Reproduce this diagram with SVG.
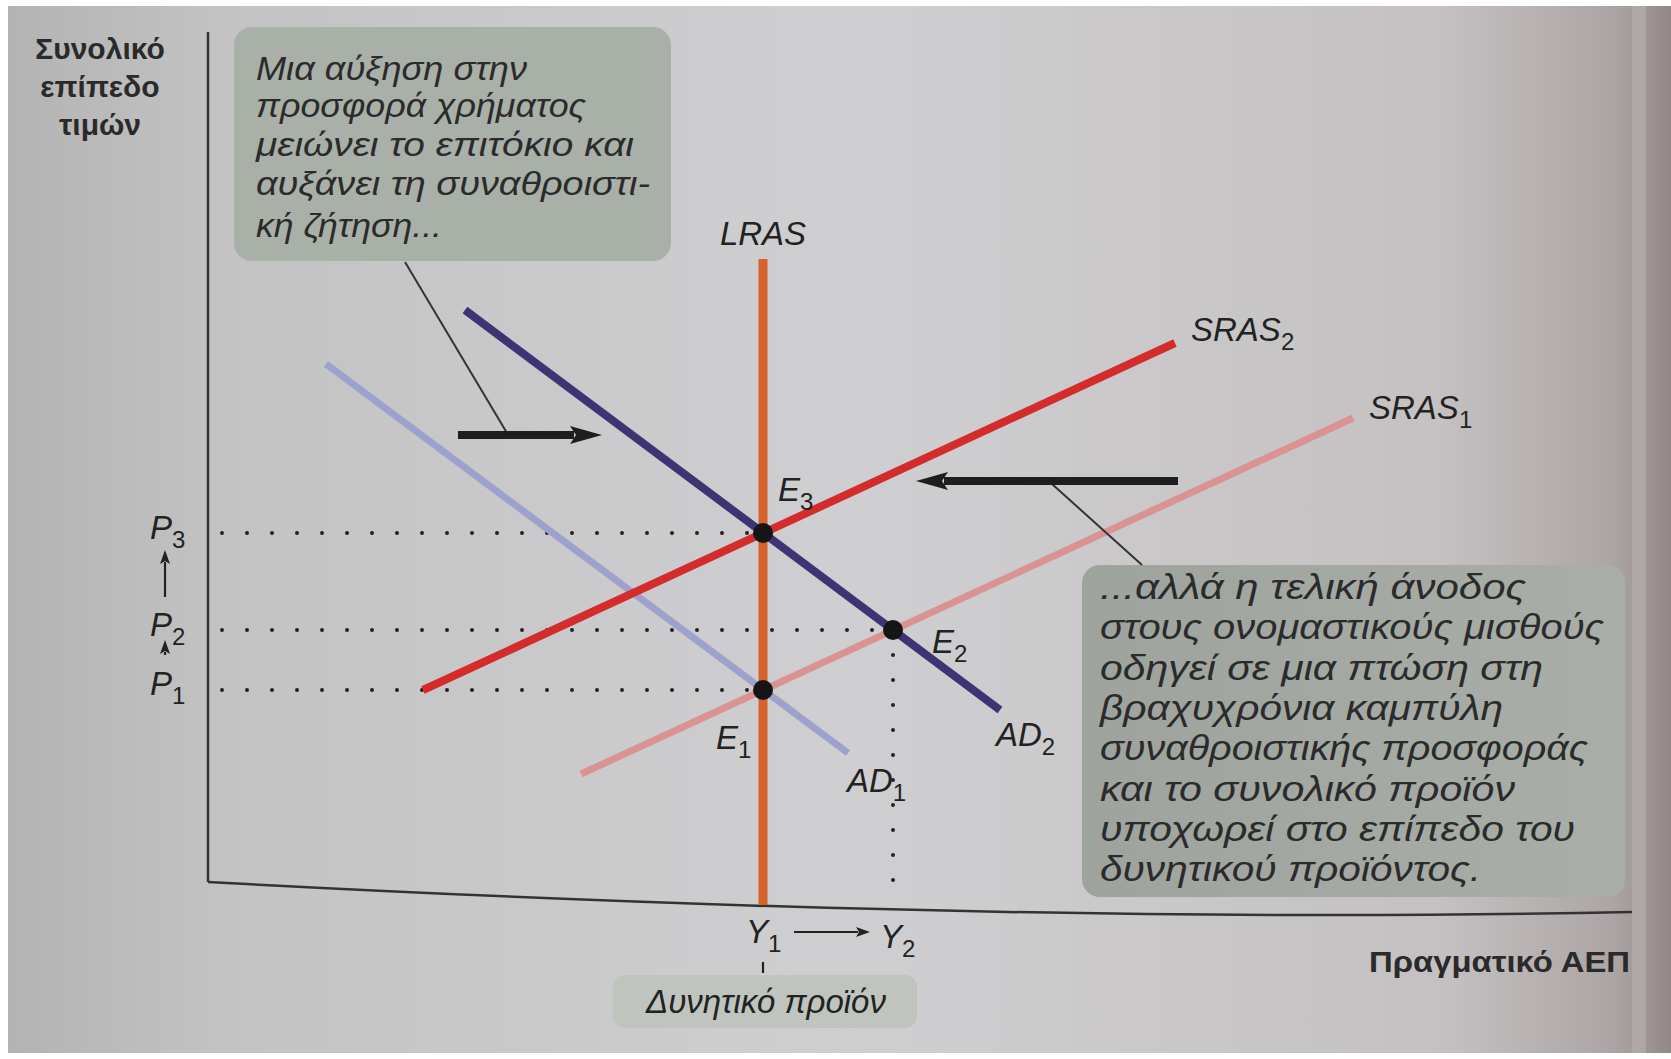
<svg xmlns="http://www.w3.org/2000/svg" width="1671" height="1059" viewBox="0 0 1671 1059">
<style>
text{font-family:"Liberation Sans",Arial,sans-serif;fill:#222}
.lab{font-style:italic;font-size:33px}
.sub{font-size:24px;font-style:normal}
.ax{font-weight:bold;font-size:30px;fill:#2a2a2a}
.bt{font-style:italic;font-size:34px;fill:#2b2b2b}
.rt{font-style:italic;font-size:35px;fill:#2b2b2b}
.curve{fill:none;stroke-linecap:butt}
.dot{stroke:#222;stroke-width:4;stroke-dasharray:0 25;stroke-linecap:round;fill:none}
.lead{stroke:#333;stroke-width:2;fill:none}
.thick{stroke:#1e1e1e;stroke-width:8;fill:none}
.thin{stroke:#222;stroke-width:2.2;fill:none}
.eq{fill:#151515}
</style>
<defs>
<linearGradient id="bg" x1="0" x2="1" y1="0" y2="0">
<stop offset="0" stop-color="#b3b3b3"/>
<stop offset="0.13" stop-color="#c3c3c4"/>
<stop offset="0.5" stop-color="#cfcfd1"/>
<stop offset="0.86" stop-color="#c5c1c2"/>
<stop offset="0.965" stop-color="#ada5a5"/>
<stop offset="1" stop-color="#938888"/>
</linearGradient>
<linearGradient id="boxR" x1="0" x2="1" y1="0" y2="0">
<stop offset="0" stop-color="#9ea39e"/>
<stop offset="1" stop-color="#aaaea9"/>
</linearGradient>
<marker id="bigHead" markerUnits="userSpaceOnUse" markerWidth="34" markerHeight="24" refX="4" refY="12" orient="auto">
<path d="M0,3 L32,12 L0,21 L6,12 Z" fill="#1e1e1e"/>
</marker>
<marker id="smallHead" markerUnits="userSpaceOnUse" markerWidth="16" markerHeight="12" refX="2" refY="6" orient="auto">
<path d="M0,1 L14,6 L0,11 L3,6 Z" fill="#222"/>
</marker>
</defs>

<g id="background">
<rect x="0" y="0" width="1671" height="1059" fill="#ffffff"/>
<rect x="8" y="6" width="1663" height="1047" fill="url(#bg)"/>
<rect x="1632" y="6" width="14" height="1047" fill="#b9b1b1" opacity="0.6"/>
</g>

<g id="axes">
<line x1="208" y1="32" x2="208" y2="882" stroke="#333" stroke-width="2.5"/>
<path d="M208,882 Q1000,925 1632,912" stroke="#333" stroke-width="2.5" fill="none"/>
<g id="y-axis-label">
<text class="ax" x="100" y="59" text-anchor="middle">Συνολικό</text>
<text class="ax" x="100" y="97" text-anchor="middle">επίπεδο</text>
<text class="ax" x="100" y="135" text-anchor="middle">τιμών</text>
</g>
<text id="x-axis-label" class="ax" x="1369" y="972" font-size="32" textLength="261" lengthAdjust="spacingAndGlyphs">Πραγματικό ΑΕΠ</text>
</g>

<g id="box-demand">
<rect x="234" y="27" width="437" height="234" rx="18" fill="#a8b0a8"/>
<text class="bt" x="256" y="80" textLength="271" lengthAdjust="spacingAndGlyphs">Μια αύξηση στην</text>
<text class="bt" x="256" y="117" textLength="330" lengthAdjust="spacingAndGlyphs">προσφορά χρήματος</text>
<text class="bt" x="256" y="156" textLength="378" lengthAdjust="spacingAndGlyphs">μειώνει το επιτόκιο και</text>
<text class="bt" x="256" y="195" textLength="394" lengthAdjust="spacingAndGlyphs">αυξάνει τη συναθροιστι-</text>
<text class="bt" x="256" y="237" textLength="186" lengthAdjust="spacingAndGlyphs">κή ζήτηση...</text>
</g>

<g id="box-supply">
<rect x="1082" y="565" width="543" height="332" rx="18" fill="url(#boxR)"/>
<text class="rt" x="1100" y="599" textLength="426" lengthAdjust="spacingAndGlyphs">...αλλά η τελική άνοδος</text>
<text class="rt" x="1100" y="639" textLength="504" lengthAdjust="spacingAndGlyphs">στους ονομαστικούς μισθούς</text>
<text class="rt" x="1100" y="680" textLength="443" lengthAdjust="spacingAndGlyphs">οδηγεί σε μια πτώση στη</text>
<text class="rt" x="1100" y="720" textLength="403" lengthAdjust="spacingAndGlyphs">βραχυχρόνια καμπύλη</text>
<text class="rt" x="1100" y="760" textLength="488" lengthAdjust="spacingAndGlyphs">συναθροιστικής προσφοράς</text>
<text class="rt" x="1100" y="801" textLength="415" lengthAdjust="spacingAndGlyphs">και το συνολικό προϊόν</text>
<text class="rt" x="1100" y="841" textLength="475" lengthAdjust="spacingAndGlyphs">υποχωρεί στο επίπεδο του</text>
<text class="rt" x="1100" y="881" textLength="381" lengthAdjust="spacingAndGlyphs">δυνητικού προϊόντος.</text>
</g>

<g id="box-potential">
<rect x="613" y="975" width="304" height="53" rx="12" fill="#bfc4bf"/>
<text class="lab" x="766" y="1013" text-anchor="middle" font-size="31">Δυνητικό προϊόν</text>
</g>

<g id="dotted-guides">
<line class="dot" x1="222" y1="533" x2="755" y2="533"/>
<line class="dot" x1="222" y1="630" x2="885" y2="630"/>
<line class="dot" x1="222" y1="690" x2="755" y2="690"/>
<line class="dot" x1="893" y1="655" x2="893" y2="905"/>
</g>

<g id="AD1">
<line class="curve" x1="326" y1="364" x2="848" y2="753" stroke="#9da2cc" stroke-width="7"/>
<text class="lab" x="847" y="792">AD<tspan class="sub" dy="9">1</tspan></text>
</g>
<g id="SRAS1">
<line class="curve" x1="581" y1="774" x2="1353" y2="418" stroke="#da9292" stroke-width="7"/>
<text class="lab" x="1369" y="419">SRAS<tspan class="sub" dy="9">1</tspan></text>
</g>
<g id="LRAS">
<line class="curve" x1="763" y1="259" x2="763" y2="905" stroke="#d6622c" stroke-width="9"/>
<text class="lab" x="763" y="245" text-anchor="middle">LRAS</text>
</g>
<g id="SRAS2">
<line class="curve" x1="423" y1="690" x2="1175" y2="343" stroke="#d42b2b" stroke-width="8"/>
<text class="lab" x="1191" y="341">SRAS<tspan class="sub" dy="9">2</tspan></text>
</g>
<g id="AD2">
<line class="curve" x1="465" y1="310" x2="1000" y2="710" stroke="#3f3473" stroke-width="8"/>
<text class="lab" x="996" y="746">AD<tspan class="sub" dy="9">2</tspan></text>
</g>

<g id="E3">
<circle class="eq" cx="763" cy="533" r="10"/>
<text class="lab" x="778" y="501">E<tspan class="sub" dy="9">3</tspan></text>
</g>
<g id="E2">
<circle class="eq" cx="893" cy="630" r="10"/>
<text class="lab" x="932" y="653">E<tspan class="sub" dy="9">2</tspan></text>
</g>
<g id="E1">
<circle class="eq" cx="763" cy="690" r="10"/>
<text class="lab" x="716" y="749">E<tspan class="sub" dy="9">1</tspan></text>
</g>

<g id="price-labels">
<text class="lab" x="150" y="539">P<tspan class="sub" dy="9">3</tspan></text>
<text class="lab" x="150" y="636">P<tspan class="sub" dy="9">2</tspan></text>
<text class="lab" x="150" y="695">P<tspan class="sub" dy="9">1</tspan></text>
</g>

<g id="output-labels">
<text class="lab" x="746" y="943">Y<tspan class="sub" dy="9">1</tspan></text>
<text class="lab" x="880" y="948">Y<tspan class="sub" dy="9">2</tspan></text>
</g>

<g id="connectors">
<line class="lead" x1="405" y1="262" x2="507" y2="433"/>
<line class="thick" x1="458" y1="435" x2="574" y2="435" marker-end="url(#bigHead)"/>
<line class="lead" x1="1052" y1="484" x2="1142" y2="565"/>
<line class="thick" x1="1178" y1="481" x2="944" y2="481" marker-end="url(#bigHead)"/>
<line class="thin" x1="794" y1="932" x2="858" y2="932" marker-end="url(#smallHead)"/>
<line class="thin" x1="165" y1="597" x2="165" y2="562" marker-end="url(#smallHead)"/>
<line class="thin" x1="165" y1="655" x2="165" y2="652" marker-end="url(#smallHead)"/>
<line class="thin" x1="763" y1="962" x2="763" y2="973"/>
</g>
</svg>
